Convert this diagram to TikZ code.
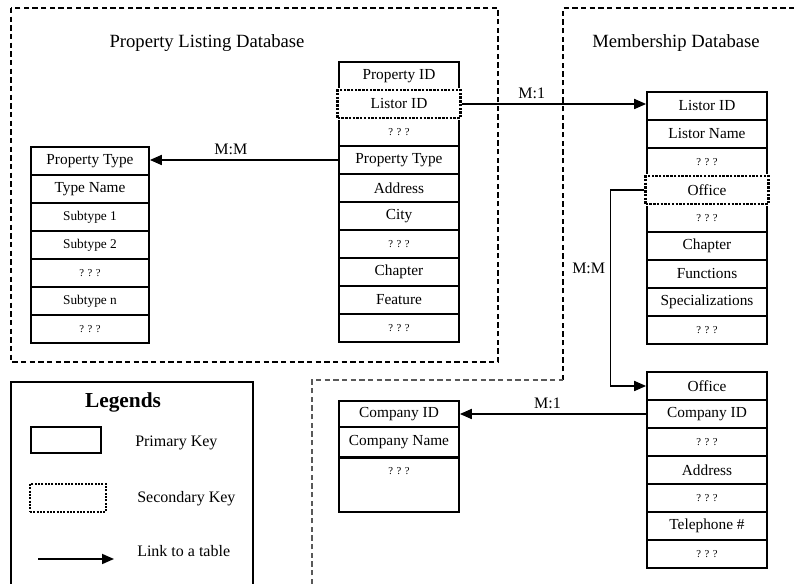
\documentclass[tikz,border=0pt]{standalone}
\usepackage{fontspec}
\setmainfont{Liberation Serif}
\usetikzlibrary{arrows.meta}

\newcommand{\qqq}{{\fontsize{8}{9}\selectfont ? ? ?}}
\newcommand{\minor}[1]{{\fontsize{10}{12}\selectfont #1}}

\tikzset{
  field/.style={draw, line width=1.3pt, minimum width=90pt, minimum height=21pt,
    inner sep=0pt, font=\fontsize{11.5}{13}\selectfont},
  seckey/.style={draw, densely dotted, line width=1.8pt, minimum width=92pt,
    minimum height=21pt, inner sep=0pt, preaction={draw=white, solid, line width=3pt}},
  dbframe/.style={line width=1.2pt, dash pattern=on 4pt off 2.5pt},
  title/.style={font=\fontsize{14}{16}\selectfont},
  rel/.style={font=\fontsize{12}{14}\selectfont},
  legtext/.style={anchor=west, inner sep=0pt, font=\fontsize{12}{14}\selectfont},
  link/.style={line width=1.3pt, -{Triangle[length=9pt, width=7.5pt]}}
}

\begin{document}
\begin{tikzpicture}[x=0.75pt, y=-0.75pt]
  \useasboundingbox (0,0) rectangle (794,584);
  \clip (0,0) rectangle (794,584);

  \draw[dbframe] (11,8) rectangle (498,362);
  \draw[dbframe] (563,380) -- (563,8) -- (794,8);
  \draw[dbframe, black!65] (312,584) -- (312,380) -- (563,380);
  \node[title] (plt) at (207,43) {Property Listing Database};
  \node[title] (mbt) at (676,43) {Membership Database};

  \foreach \t [count=\i] in {Property ID, Listor ID, \qqq, Property Type, Address,
      City, \qqq, Chapter, Feature, \qqq}
    \node[field] (pl\i) at (399,48+28*\i) {\t};

  \foreach \t [count=\i] in {Property Type, Type Name, \minor{Subtype 1},
      \minor{Subtype 2}, \qqq, \minor{Subtype n}, \qqq}
    \node[field, minimum width=88.5pt] (pt\i) at (90,133+28*\i) {\t};

  \foreach \t [count=\i] in {Listor ID, Listor Name, \qqq, Office, \qqq, Chapter,
      Functions, Specializations, \qqq}
    \node[field] (ms\i) at (707,78+28*\i) {\t};

  \foreach \t [count=\i] in {Office, Company ID, \qqq, Address, \qqq,
      Telephone \#, \qqq}
    \node[field] (of\i) at (707,358+28*\i) {\t};

  \node[field, minimum height=19.5pt] (co1) at (399,414) {Company ID};
  \node[field, minimum height=22.5pt] (co2) at (399,442) {Company Name};
  \node[field, minimum height=40.5pt, anchor=north,
    label={[anchor=north, yshift=-4pt]north:\qqq}] (co3) at (399,457) {};

  \node[seckey] (lk) at (pl2) {};
  \node[seckey] (ok) at (ms4) {};

  \draw[link] (lk.east) -- node[rel, above, pos=0.38] {M:1} (lk.east -| ms1.west);
  \draw[link] (pl4.west) -- node[rel, above, pos=0.57] {M:M} (pl4.west -| pt1.east);
  \draw[link] (ok.west) -- ++(-34,0) |- node[rel, left, pos=0.2] {M:M} (of1.west);
  \draw[link] (of2.west) -- node[rel, above, pos=0.53] {M:1} (of2.west -| co1.east);

  \draw[line width=1.3pt] (11,382) rectangle (253,600);
  \node[font=\bfseries\fontsize{16}{18}\selectfont] (lg) at (123,402) {Legends};
  \node[draw, line width=1.3pt, minimum width=53pt, minimum height=19pt] (pk) at (66,440) {};
  \node[legtext] (pkt) at (135,443) {Primary Key};
  \node[draw, densely dotted, line width=1.5pt, minimum width=57pt, minimum height=21pt] (sk) at (68,498) {};
  \node[legtext] (skt) at (137,499) {Secondary Key};
  \coordinate (la) at (38,559);
  \coordinate (lb) at (114,559);
  \draw[link] (la) -- (lb);
  \node[legtext] (lt) at (137,551) {Link to a table};
\end{tikzpicture}
\end{document}
